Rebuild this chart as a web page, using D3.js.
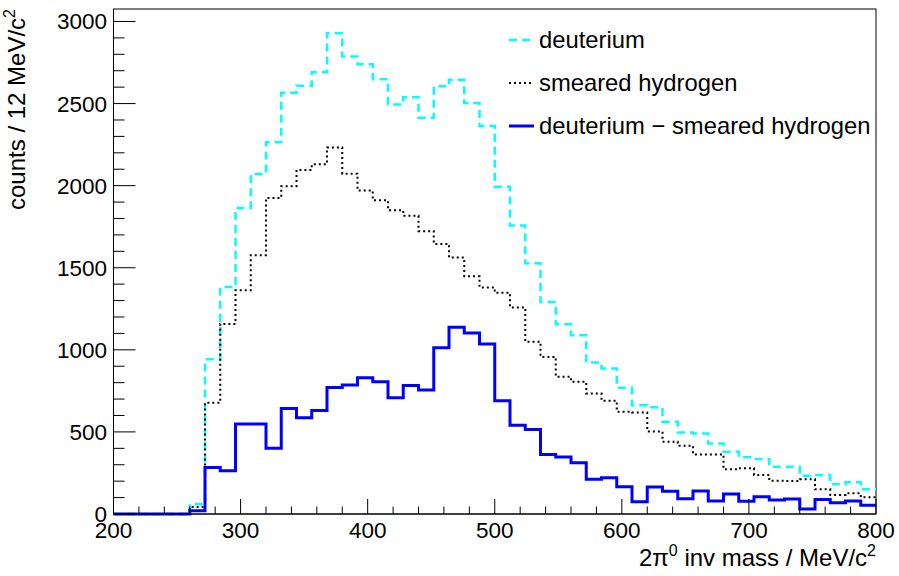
<!DOCTYPE html>
<html><head><meta charset="utf-8">
<script src="https://cdn.jsdelivr.net/npm/d3@7"></script>
<style>body{margin:0;background:#fff}svg{display:block}text{font-family:"Liberation Sans",Arial,sans-serif;fill:#000}</style>
</head><body>
<svg id="c" width="899" height="576"></svg>
<script>
const binEdgesStart = 200, binWidth = 12, nBins = 50;
const deuterium = [0,0,0,0,0,60,943,1383,1864,2071,2265,2566,2609,2690,2929,2787,2740,2648,2494,2538,2414,2605,2645,2503,2363,1994,1757,1527,1292,1156,1089,923,887,769,663,650,562,497,491,430,379,345,335,288,288,233,237,181,193,150];
const smearedHydrogen = [0,0,0,0,0,42,677,1158,1363,1576,1925,1997,2096,2130,2233,2073,1970,1911,1850,1816,1723,1645,1562,1448,1380,1347,1258,1049,957,836,805,734,690,623,618,503,440,416,363,363,272,278,237,203,201,211,150,116,126,102];
const difference = [0,0,0,0,0,20,284,264,548,548,400,643,586,631,771,785,830,805,708,783,755,1012,1138,1103,1035,690,540,515,363,347,312,211,221,166,74,164,139,93,140,79,122,77,105,85,91,30,89,69,79,53];
const xTicks = [200,300,400,500,600,700,800];
const yTicks = [0,500,1000,1500,2000,2500,3000];
const legendLabels = ["deuterium","smeared hydrogen","deuterium \u2212 smeared hydrogen"];

const svg = d3.select("#c");
const L = 113.5, R = 876, T = 9, B = 514;
const x = d3.scaleLinear().domain([200,800]).range([L,R]);
const y = d3.scaleLinear().domain([0,3076]).range([B,T]);

function pts(arr){
  const p = arr.map((v,i)=>[binEdgesStart+i*binWidth, v]);
  p.push([binEdgesStart+nBins*binWidth, arr[arr.length-1]]);
  return p;
}
const line = d3.line().x(d=>x(d[0])).y(d=>y(d[1])).curve(d3.curveStepAfter);

// frame
svg.append("rect").attr("x",L).attr("y",T).attr("width",R-L).attr("height",B-T)
  .attr("fill","none").attr("stroke","#000").attr("stroke-width",1);

const styles = [
  {data:deuterium, color:"#00ffff", w:2.5, dash:"8,5"},
  {data:smearedHydrogen, color:"#000", w:2, dash:"2,3"},
  {data:difference, color:"#0000ff", w:3, dash:null}
];
styles.forEach(s=>{
  svg.append("path").attr("d", line(pts(s.data))).attr("fill","none")
    .attr("stroke", s.color).attr("stroke-width", s.w)
    .attr("stroke-dasharray", s.dash);
});

// x axis
const xMinor = d3.range(200,801,20);
svg.append("g").selectAll("line").data(xMinor).join("line")
  .attr("x1",d=>x(d)).attr("x2",d=>x(d))
  .attr("y1",B).attr("y2",d=>d%100===0?B-15:B-7.5)
  .attr("stroke","#000").attr("stroke-width",1);
svg.append("line").attr("x1",L).attr("x2",R).attr("y1",B).attr("y2",B).attr("stroke","#000");
svg.append("g").selectAll("text").data(xTicks).join("text")
  .attr("x",d=>x(d)).attr("y",538).attr("text-anchor","middle")
  .attr("font-size",22.5).text(d=>d);

// y axis
const yMinor = d3.range(0,3001,100);
svg.append("g").selectAll("line").data(yMinor).join("line")
  .attr("x1",L).attr("x2",d=>d%500===0?L+22:L+11)
  .attr("y1",d=>y(d)).attr("y2",d=>y(d))
  .attr("stroke","#000").attr("stroke-width",1);
svg.append("g").selectAll("text").data(yTicks).join("text")
  .attr("x",107).attr("y",d=>y(d)+8).attr("text-anchor","end")
  .attr("font-size",22.5).text(d=>d);

// axis titles
const xt = svg.append("text").attr("x",R).attr("y",566).attr("text-anchor","end").attr("font-size",24);
xt.append("tspan").text("2\u03c0");
xt.append("tspan").attr("dy",-10).attr("font-size",16).text("0");
xt.append("tspan").attr("dy",10).text(" inv mass / MeV/c");
xt.append("tspan").attr("dy",-10).attr("font-size",16).text("2");

const yt = svg.append("text").attr("transform","translate(25,9) rotate(-90)").attr("text-anchor","end").attr("font-size",24);
yt.append("tspan").text("counts / 12 MeV/c");
yt.append("tspan").attr("dy",-10).attr("font-size",16).text("2");

// legend
const lg = svg.append("g");
legendLabels.forEach((lab,i)=>{
  const cy = 40 + i*43;
  const s = styles[i];
  lg.append("line").attr("x1",509).attr("x2",534).attr("y1",cy).attr("y2",cy)
    .attr("stroke",s.color).attr("stroke-width",s.w).attr("stroke-dasharray",s.dash);
  lg.append("text").attr("x",539).attr("y",cy+8).attr("font-size",23.8).text(lab);
});
</script>
</body></html>
